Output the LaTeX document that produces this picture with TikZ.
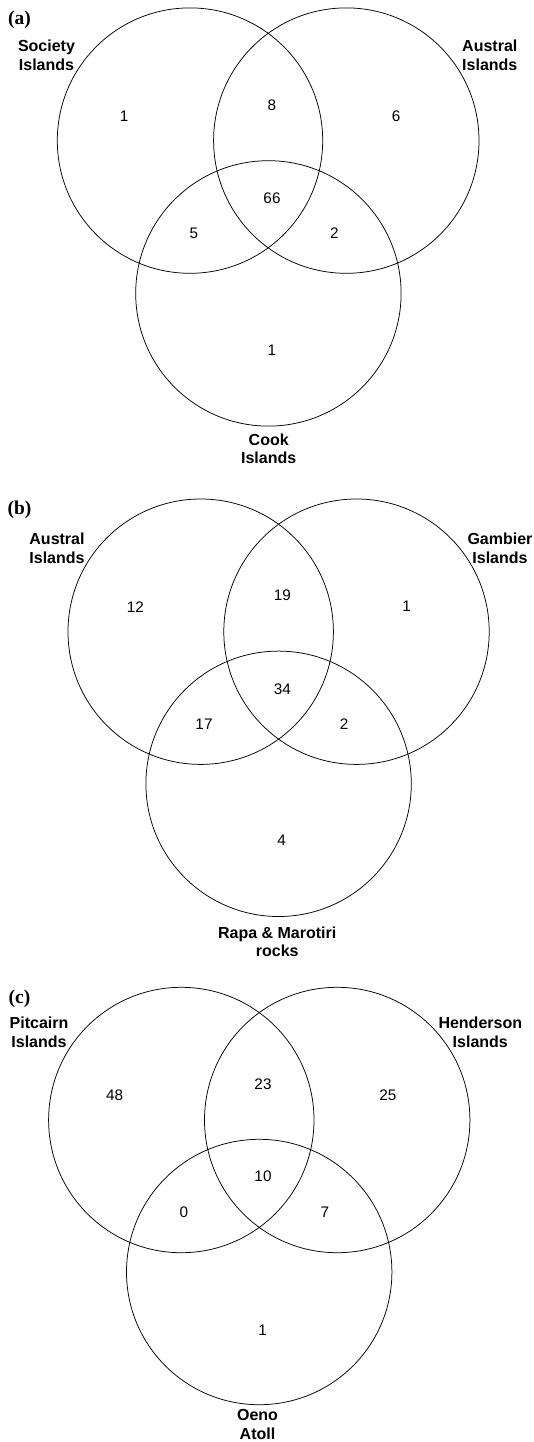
\documentclass[tikz,border=0pt]{standalone}
\usepackage{fontspec}
\setmainfont{Liberation Sans}
\newfontfamily\panelfont{Liberation Serif}
\begin{document}
\begin{tikzpicture}[x=1pt,y=-1pt,
  ring/.style={draw=black,line width=0.75pt},
  lab/.style={font=\fontsize{16}{18.5}\selectfont\bfseries,align=center,inner sep=0pt},
  num/.style={font=\fontsize{15.3}{18}\selectfont,inner sep=0pt},
  panel/.style={font=\panelfont\fontsize{19.5}{22}\selectfont\bfseries,inner sep=0pt}]
\useasboundingbox[fill=white] (0,0) rectangle (534,1442);
% ---------- (a) ----------
\coordinate (a1) at (190,140.6);
\coordinate (a2) at (346.3,140.6);
\coordinate (a3) at (268.4,293.4);
\draw[ring] (a1) circle[radius=132.7pt];
\draw[ring] (a2) circle[radius=132.7pt];
\draw[ring] (a3) circle[radius=132.7pt];
\node[panel] (pa) at (19.5,20) {(a)};
\node[lab] (la1) at (46.5,55.5) {Society\\Islands};
\node[lab] (la2) at (489.8,55.5) {Austral\\Islands};
\node[lab] (la3) at (268.7,449) {Cook\\Islands};
\node[num] (na1) at (124.1,116) {1};
\node[num] (na12) at (272,105.3) {8};
\node[num] (na2) at (396,116) {6};
\node[num] (na123) at (272,198) {66};
\node[num] (na13) at (193.9,233.3) {5};
\node[num] (na23) at (334.4,233.3) {2};
\node[num] (na3) at (272,350) {1};
% ---------- (b) ----------
\coordinate (b1) at (200.7,631.7);
\coordinate (b2) at (356.5,631.7);
\coordinate (b3) at (278.6,783.8);
\draw[ring] (b1) circle[radius=132.7pt];
\draw[ring] (b2) circle[radius=132.7pt];
\draw[ring] (b3) circle[radius=132.7pt];
\node[panel] (pb) at (19.5,510) {(b)};
\node[lab] (lb1) at (57,548.3) {Austral\\Islands};
\node[lab] (lb2) at (500,548.3) {Gambier\\Islands};
\node[lab] (lb3) at (277.2,942) {Rapa \& Marotiri\\rocks};
\node[num] (nb1) at (135.4,606.7) {12};
\node[num] (nb12) at (282.3,595) {19};
\node[num] (nb2) at (406.5,606.7) {1};
\node[num] (nb123) at (282.3,689) {34};
\node[num] (nb13) at (204,724) {17};
\node[num] (nb23) at (344.2,724) {2};
\node[num] (nb3) at (281.6,840.7) {4};
% ---------- (c) ----------
\coordinate (c1) at (181.3,1120);
\coordinate (c2) at (337.2,1120);
\coordinate (c3) at (259.2,1272);
\draw[ring] (c1) circle[radius=132.7pt];
\draw[ring] (c2) circle[radius=132.7pt];
\draw[ring] (c3) circle[radius=132.7pt];
\node[panel] (pc) at (19.5,998.3) {(c)};
\node[lab] (lc1) at (39,1032.5) {Pitcairn\\Islands};
\node[lab] (lc2) at (480.3,1032.5) {Henderson\\Islands};
\node[lab] (lc3) at (257.5,1424.5) {Oeno\\Atoll};
\node[num] (nc1) at (114.6,1095) {48};
\node[num] (nc12) at (263,1084) {23};
\node[num] (nc2) at (387.8,1095) {25};
\node[num] (nc123) at (263,1176.7) {10};
\node[num] (nc13) at (184,1212.3) {0};
\node[num] (nc23) at (324.8,1212.3) {7};
\node[num] (nc3) at (262.6,1330) {1};
\end{tikzpicture}
\end{document}
